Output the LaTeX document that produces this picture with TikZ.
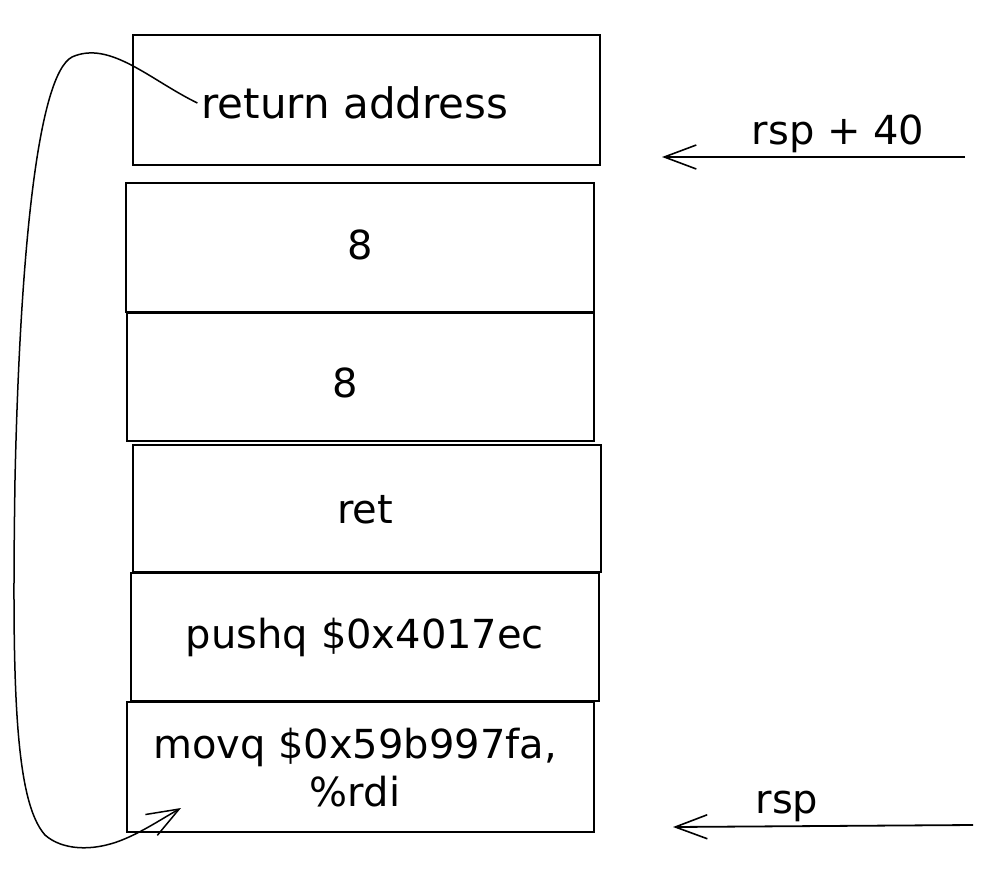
\documentclass[tikz,border=0pt]{standalone}
\usepackage{fontspec}
\setmainfont{DejaVu Sans}
\usetikzlibrary{arrows.meta}
\begin{document}
\begin{tikzpicture}[x=1pt,y=-1pt,
  cell/.style={draw=black,line width=1.8pt,inner sep=0pt},
  lbl/.style={font=\fontsize{40}{48}\selectfont,inner sep=0pt,align=center},
  arr/.style={draw=black,line width=1.8pt,-{Straight Barb[length=32pt,width=24pt,line width=1.6pt]}},
  loop/.style={draw=black,line width=1.5pt,-{Straight Barb[length=32pt,width=24pt,line width=1.5pt]}}]
\fill[white] (0,0) rectangle (990,878);
\useasboundingbox (0,0) rectangle (990,878);
% stack cells
\node[cell,minimum width=467pt,minimum height=130pt] (b1) at (366.5,100) {};
\node[cell,minimum width=468pt,minimum height=129pt] (b2) at (360,247.5) {};
\node[cell,minimum width=467pt,minimum height=128pt] (b3) at (360.5,377) {};
\node[cell,minimum width=468pt,minimum height=127pt] (b4) at (367,508.5) {};
\node[cell,minimum width=468pt,minimum height=128pt] (b5) at (365,637) {};
\node[cell,minimum width=467pt,minimum height=130pt] (b6) at (360.5,767) {};
% labels
\node[lbl,font=\fontsize{42}{48}\selectfont] (ra) at (355,103) {return address};
\node[lbl] (e1) at (360,245) {8};
\node[lbl] (e2) at (345,383) {8};
\node[lbl] (rt) at (365,510) {ret};
\node[lbl] (ph) at (365,637) {pushq \$0x4017ec};
\node[lbl] (mv) at (355,768) {movq \$0x59b997fa,\\\%rdi};
% right pointers
\coordinate (p1s) at (965,157);
\coordinate (p1e) at (662,157);
\draw[arr] (p1s) -- (p1e);
\node[lbl] (l1) at (838,134) {rsp + 40};
\coordinate (p2s) at (973,825);
\coordinate (p2e) at (673,827);
\draw[arr] (p2s) -- (p2e);
\node[lbl] (l2) at (787,806) {rsp};
% return loop
\coordinate (tgt) at (181,808);
\draw[loop] (ra.west) ++(-4,0)
  .. controls (150,80) and (110,40) .. (72,57)
  .. controls (38,75) and (20,250) .. (15,480)
  .. controls (12,680) and (14,800) .. (45,835)
  .. controls (62,850) and (92,852) .. (122,840)
  .. controls (142,832) and (160,820) .. (tgt);
\end{tikzpicture}
\end{document}
